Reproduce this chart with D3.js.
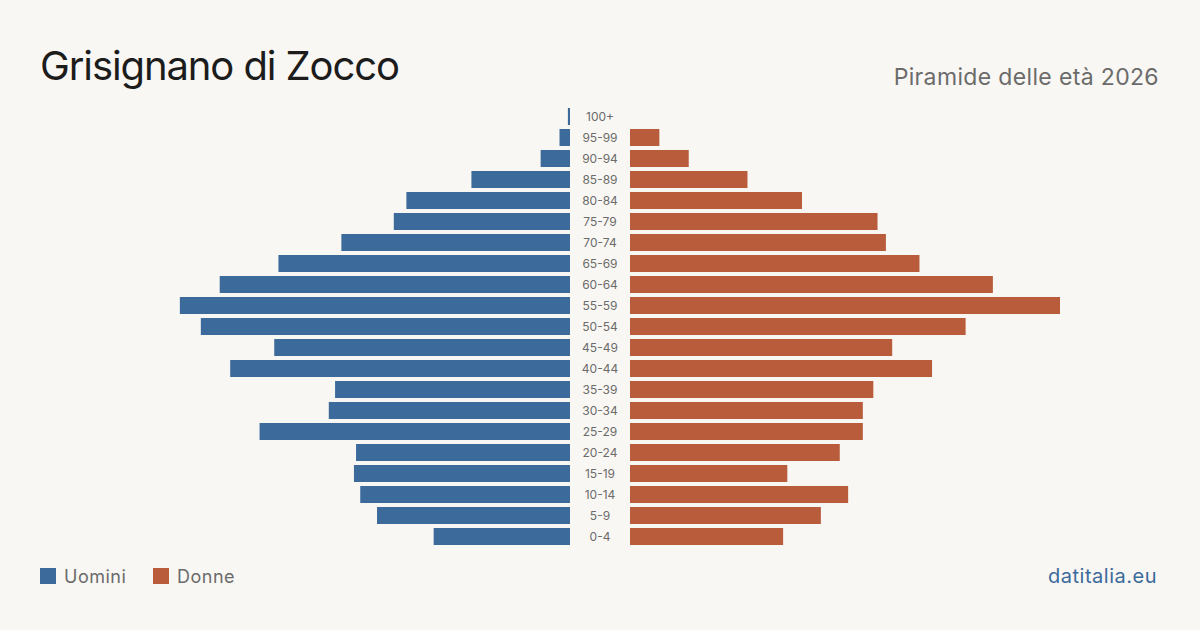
<!DOCTYPE html>
<html>
<head>
<meta charset="utf-8">
<script src="https://cdn.jsdelivr.net/npm/d3@7"></script>
<style>
  body { margin: 0; background: #f9f7f3; }
  svg { display: block; font-family: Inter, "Noto Sans", sans-serif; }
</style>
</head>
<body>
<div id="chart"></div>
<script>
// age groups, top to bottom
const ageGroups = ["100+", "95-99", "90-94", "85-89", "80-84", "75-79", "70-74", "65-69", "60-64", "55-59",
    "50-54", "45-49", "40-44", "35-39", "30-34", "25-29", "20-24", "15-19", "10-14", "5-9", "0-4"];
const uomini = [1, 5, 14, 47, 78, 84, 109, 139, 167, 186, 176, 141, 162, 112, 115, 148, 102, 103, 100, 92, 65];
const donne = [0, 14, 28, 56, 82, 118, 122, 138, 173, 205, 160, 125, 144, 116, 111, 111, 100, 75, 104, 91, 73];

const width = 1200, height = 630;
const maleColor = "#3b6a9b", femaleColor = "#b85c3c";
const centerL = 570, centerR = 630;

const svg = d3.select("#chart").append("svg")
    .attr("width", width)
    .attr("height", height);

svg.append("rect").attr("width", width).attr("height", height).attr("fill", "#f9f7f3");

// title + subtitle
svg.append("text")
    .attr("x", 40).attr("y", 80)
    .attr("fill", "#1c1c1c")
    .style("font-size", "40px")
    .style("letter-spacing", "-1.1px")
    .text("Grisignano di Zocco");

svg.append("text")
    .attr("x", 1159).attr("y", 85)
    .attr("text-anchor", "end")
    .attr("fill", "#6b6b6b")
    .style("font-size", "23px")
    .style("letter-spacing", "0.35px")
    .text("Piramide delle età 2026");

const y = d3.scaleBand()
    .domain(ageGroups)
    .range([106, 547])
    .paddingInner(0.19)
    .paddingOuter(0.095);

const x = d3.scaleLinear()
    .domain([0, 205])
    .range([0, 430]);

const rows = ageGroups.map((a, i) => ({ age: a, m: uomini[i], f: donne[i] }));

// male bars
svg.selectAll(".bar-m")
    .data(rows)
    .enter()
    .append("rect")
    .attr("class", "bar-m")
    .attr("x", d => centerL - x(d.m))
    .attr("y", d => y(d.age))
    .attr("width", d => x(d.m))
    .attr("height", y.bandwidth())
    .attr("fill", maleColor);

// female bars
svg.selectAll(".bar-f")
    .data(rows)
    .enter()
    .append("rect")
    .attr("class", "bar-f")
    .attr("x", centerR)
    .attr("y", d => y(d.age))
    .attr("width", d => x(d.f))
    .attr("height", y.bandwidth())
    .attr("fill", femaleColor);

// age labels
svg.selectAll(".age-label")
    .data(rows)
    .enter()
    .append("text")
    .attr("class", "age-label")
    .attr("x", (centerL + centerR) / 2)
    .attr("y", d => y(d.age) + y.bandwidth() / 2 + 4)
    .attr("text-anchor", "middle")
    .attr("fill", "#6b6b6b")
    .style("font-size", "12px")
    .text(d => d.age);

// legend
const legend = [{ label: "Uomini", color: maleColor, x: 40 }, { label: "Donne", color: femaleColor, x: 153 }];
const lg = svg.selectAll(".legend")
    .data(legend)
    .enter()
    .append("g")
    .attr("class", "legend")
    .attr("transform", d => `translate(${d.x}, 568)`);
lg.append("rect").attr("width", 16).attr("height", 16).attr("fill", d => d.color);
lg.append("text")
    .attr("x", 24).attr("y", 15)
    .attr("fill", "#6b6b6b")
    .style("font-size", "18px")
    .style("letter-spacing", "0.5px")
    .text(d => d.label);

// source
svg.append("text")
    .attr("x", 1157).attr("y", 583)
    .attr("text-anchor", "end")
    .attr("fill", "#3b6a9b")
    .style("font-size", "20px")
    .style("letter-spacing", "0.5px")
    .text("datitalia.eu");
</script>
</body>
</html>
